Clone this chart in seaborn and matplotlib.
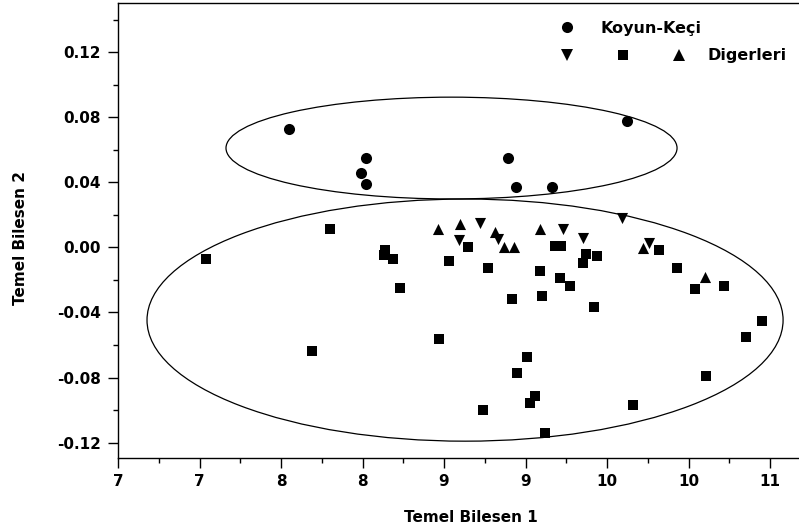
import pandas as pd
import matplotlib
matplotlib.use("Agg")
import matplotlib.pyplot as plt
import seaborn as sns
from matplotlib.patches import Ellipse
from matplotlib.lines import Line2D
from matplotlib.legend_handler import HandlerTuple
from matplotlib.ticker import MultipleLocator, FuncFormatter

# ----------------------------------------------------------
# Data
# ----------------------------------------------------------
koyun_x = [8.05, 8.52, 8.49, 8.52, 9.39, 9.44, 9.66, 10.12]
koyun_y = [0.073, 0.055, 0.046, 0.039, 0.055, 0.037, 0.037, 0.078]

down_x = [9.09, 9.22, 9.33, 9.73, 9.85, 10.09, 10.26]
down_y = [0.0045, 0.0151, 0.0049, 0.0111, 0.0059, 0.0178, 0.0028]

up_x = [8.96, 9.10, 9.31, 9.37, 9.43, 9.59, 10.22, 10.60]
up_y = [0.0114, 0.0142, 0.0096, 0.0004, 0.0004, 0.0114, -0.0006, -0.0183]

square_x = [7.54, 8.30, 8.64, 8.63, 8.69, 8.73, 8.19, 9.15, 9.03, 9.27,
            9.68, 9.72, 9.87, 9.85, 9.94, 9.59, 9.71, 9.77, 9.60, 9.42,
            10.32, 10.43, 10.54, 10.72, 9.92, 8.97, 10.95, 10.85, 9.51, 9.45,
            10.61, 9.56, 9.53, 9.24, 10.16, 9.62]
square_y = [-0.0072, 0.0111, -0.0017, -0.0047, -0.0072, -0.0250, -0.0634, 0.0000, -0.0082, -0.0129,
            0.0008, 0.0010, -0.0042, -0.0095, -0.0053, -0.0146, -0.0189, -0.0238, -0.0298, -0.0320,
            -0.0016, -0.0127, -0.0256, -0.0240, -0.0366, -0.0566, -0.0453, -0.0550, -0.0675, -0.0774,
            -0.0790, -0.0915, -0.0954, -0.0999, -0.0972, -0.1141]

# group ellipses: centre x, centre y, width, height
ell_cx = [9.046, 9.129]
ell_cy = [0.0611, -0.0447]
ell_w = [2.767, 3.902]
ell_h = [0.0626, 0.1489]

groups = {
    "koyun": (koyun_x, koyun_y),
    "down": (down_x, down_y),
    "square": (square_x, square_y),
    "up": (up_x, up_y),
}
rows = []
for g, (xs, ys) in groups.items():
    for a, b in zip(xs, ys):
        rows.append({"pc1": a, "pc2": b, "grup": g})
df = pd.DataFrame(rows)

# ----------------------------------------------------------
# Style
# ----------------------------------------------------------
sns.set_style("ticks")
plt.rcParams['font.family'] = ['DejaVu Sans']
plt.rcParams['font.weight'] = 'bold'
plt.rcParams['axes.labelweight'] = 'bold'
plt.rcParams['text.color'] = 'black'
plt.rcParams['axes.labelcolor'] = 'black'
plt.rcParams['xtick.color'] = 'black'
plt.rcParams['ytick.color'] = 'black'

fig = plt.figure(figsize=(7.99, 5.31), dpi=100)
ax = fig.add_axes([118/799, 73/531, 706/799, 455/531])

marker_map = {"koyun": ("o", 64), "down": ("v", 64), "square": ("s", 52), "up": ("^", 64)}
for g, (m, s) in marker_map.items():
    sns.scatterplot(
        data=df[df['grup'] == g],
        x='pc1', y='pc2',
        marker=m, s=s, color='black', linewidth=0,
        legend=False, ax=ax
    )

for cx, cy, w, h in zip(ell_cx, ell_cy, ell_w, ell_h):
    ax.add_patch(Ellipse((cx, cy), w, h, fill=False, edgecolor='black', linewidth=0.9))

ax.set_xlim(7, 11.331)
ax.set_ylim(-0.1295, 0.1503)

ax.xaxis.set_major_locator(MultipleLocator(0.5))
ax.xaxis.set_minor_locator(MultipleLocator(0.25))
ax.yaxis.set_major_locator(MultipleLocator(0.04))
ax.yaxis.set_minor_locator(MultipleLocator(0.02))
ax.xaxis.set_major_formatter(FuncFormatter(lambda v, p: f"{int(v + 1e-9)}"))
ax.yaxis.set_major_formatter(FuncFormatter(lambda v, p: f"{v:.2f}".replace("-0.00", "0.00")))

ax.tick_params(axis='both', which='major', length=7, width=1, labelsize=11, colors='black')
ax.tick_params(axis='both', which='minor', length=3.5, width=1, colors='black')
ax.tick_params(axis='x', pad=4.5)
ax.tick_params(axis='y', pad=5.5)
for side in ['left', 'bottom', 'top']:
    ax.spines[side].set_linewidth(1.0)
    ax.spines[side].set_color('black')
ax.spines['right'].set_visible(False)

ax.set_xlabel("Temel Bilesen 1", fontsize=11, fontweight='bold')
ax.set_ylabel("Temel Bilesen 2", fontsize=11, fontweight='bold')
ax.xaxis.set_label_coords(0.5, -0.115)
ax.yaxis.set_label_coords(-0.1275, 0.4835)

# ----------------------------------------------------------
# Legend (two rows, drawn as two legends)
# ----------------------------------------------------------
h_circle = Line2D([], [], marker='o', linestyle='none', color='black', markersize=8, markeredgewidth=0)
h_down = Line2D([], [], marker='v', linestyle='none', color='black', markersize=8.5, markeredgewidth=0)
h_sq = Line2D([], [], marker='s', linestyle='none', color='black', markersize=7.2, markeredgewidth=0)
h_up = Line2D([], [], marker='^', linestyle='none', color='black', markersize=8.5, markeredgewidth=0)

fs = 11.5
leg1 = ax.legend([h_circle], ["Koyun-Keçi"], loc='center left',
                 bbox_to_anchor=(558.7/799, 1 - 28.3/531), bbox_transform=fig.transFigure,
                 frameon=False, borderpad=0, borderaxespad=0,
                 handlelength=1.0, handletextpad=1.64,
                 prop={'size': fs, 'weight': 'bold'})
ax.add_artist(leg1)
ax.legend([(h_down, h_sq, h_up)], ["Digerleri"], loc='center left',
          bbox_to_anchor=(538.5/799, 1 - 55.7/531), bbox_transform=fig.transFigure,
          handler_map={tuple: HandlerTuple(ndivide=None, pad=0)},
          frameon=False, borderpad=0, borderaxespad=0,
          handlelength=10.56, handletextpad=0.0,
          prop={'size': fs, 'weight': 'bold'})

fig.savefig("out.png", dpi=100)
